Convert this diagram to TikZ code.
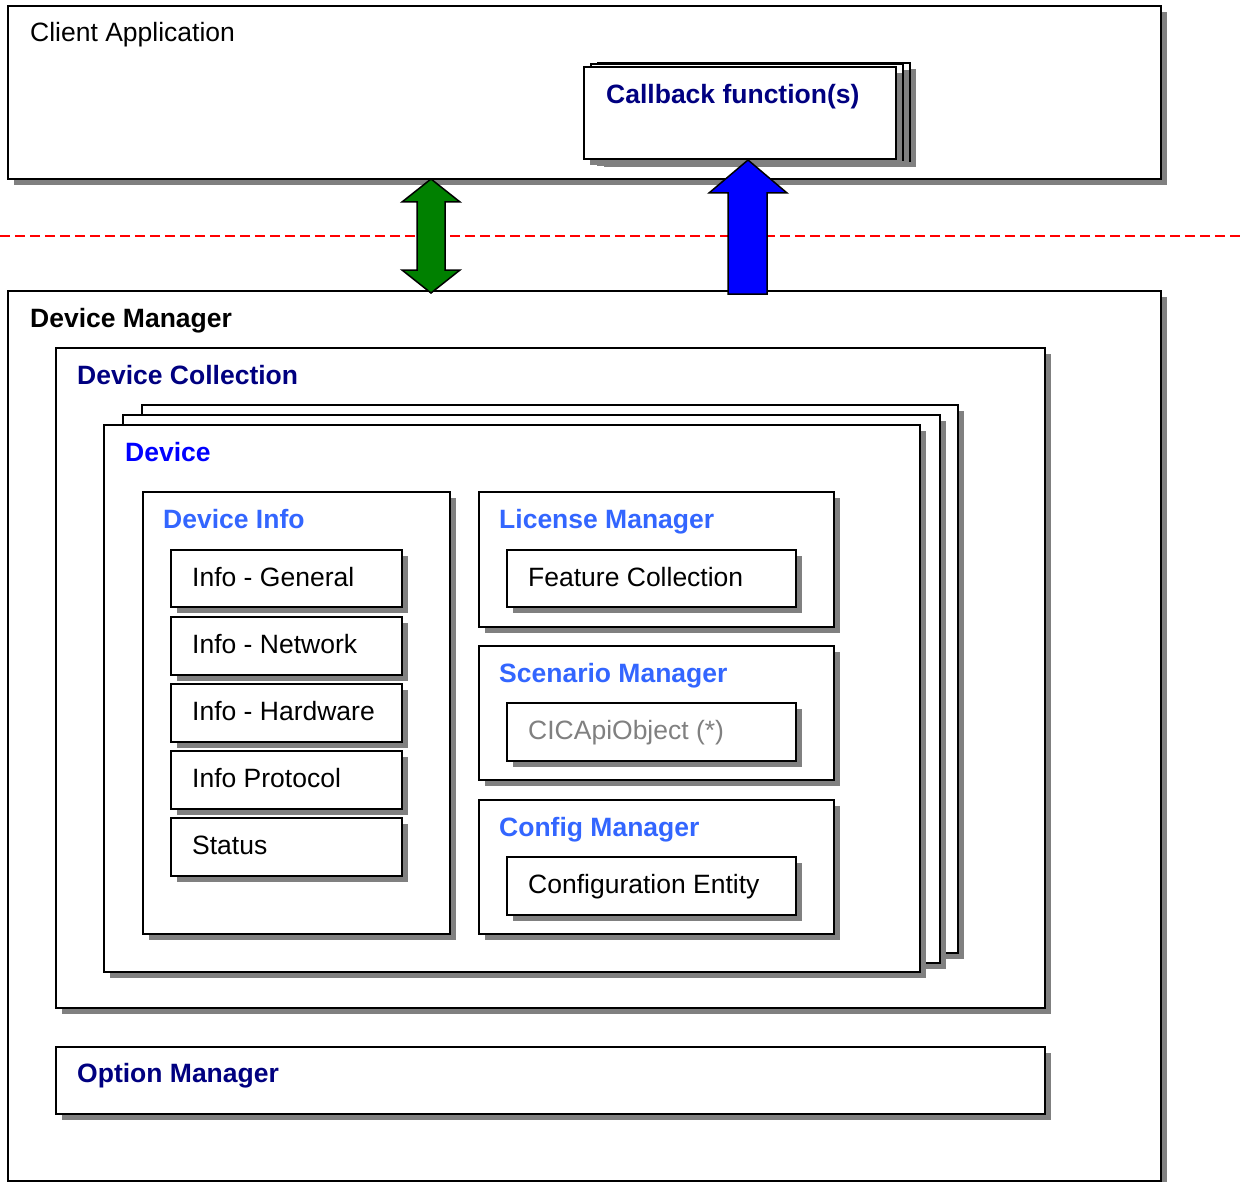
\documentclass[tikz,border=0pt]{standalone}
\usepackage{fontspec}
\setmainfont{Liberation Sans}
\usetikzlibrary{fit,shadows}
\definecolor{navy}{RGB}{0,0,128}
\definecolor{brblue}{RGB}{0,0,255}
\definecolor{ltblue}{RGB}{51,102,255}
\definecolor{shgray}{RGB}{128,128,128}
\definecolor{txgray}{RGB}{128,128,128}
\definecolor{grn}{RGB}{0,128,0}
\tikzset{
  bx/.style={draw=black, line width=2pt, fill=white, inner sep=0pt,
    drop shadow={shadow xshift=6pt, shadow yshift=-6pt, fill=shgray, opacity=1}},
  lbl/.style={anchor=base west, inner sep=0pt, font=\fontsize{26.5}{30}\selectfont},
  blbl/.style={lbl, font=\fontsize{26.5}{30}\selectfont\bfseries},
}
\begin{document}
\begin{tikzpicture}[x=1pt,y=-1pt]
\useasboundingbox (0,0) rectangle (1241,1182);
% Client application
\node[bx, fit={(8,6) (1161,179)}] (client) {};
\node[lbl] (clientt) at (30,41.5) {Client Application};
% callback stack
\node[bx, fit={(598,63) (910,161)}] (cb3) {};
\node[bx, fit={(591,64) (903,160)}] (cb2) {};
\node[bx, fit={(584,67) (896,159)}] (cb1) {};
\node[blbl, text=navy] (cbt) at (606,103.5) {Callback function(s)};
% dashed line
\coordinate (dl) at (0,236);
\coordinate (dr) at (1241,236);
\draw[red, line width=2pt, dash pattern=on 10pt off 5pt] (dl) -- (dr);
% Device manager
\node[bx, fit={(8,291) (1161,1181)}] (dm) {};
\node[blbl] (dmt) at (30,327.5) {Device Manager};
% Device collection
\node[bx, fit={(56,348) (1045,1008)}] (dc) {};
\node[blbl, text=navy] (dct) at (77,384.5) {Device Collection};
% Device stack
\node[bx, fit={(142,405) (958,953)}] (dev3) {};
\node[bx, fit={(123,415) (940,963)}] (dev2) {};
\node[bx, fit={(104,425) (920,972)}] (dev1) {};
\node[blbl, text=brblue] (devt) at (125,461.5) {Device};
% Device info
\node[bx, fit={(143,492) (450,934)}] (di) {};
\node[blbl, text=ltblue] (dit) at (163,528.5) {Device Info};
\node[bx, fit={(171,550) (402,607)}] (ig) {};
\node[lbl] at (192,586.5) {Info - General};
\node[bx, fit={(171,617) (402,675)}] (inw) {};
\node[lbl] at (192,653.5) {Info - Network};
\node[bx, fit={(171,684) (402,742)}] (ih) {};
\node[lbl] at (192,720.5) {Info - Hardware};
\node[bx, fit={(171,751) (402,809)}] (ip) {};
\node[lbl] at (192,787.5) {Info Protocol};
\node[bx, fit={(171,818) (402,876)}] (st) {};
\node[lbl] at (192,854.5) {Status};
% License manager
\node[bx, fit={(479,492) (834,627)}] (lm) {};
\node[blbl, text=ltblue] (lmt) at (499,528.5) {License Manager};
\node[bx, fit={(507,550) (796,607)}] (fc) {};
\node[lbl] at (528,586.5) {Feature Collection};
% Scenario manager
\node[bx, fit={(479,646) (834,780)}] (sm) {};
\node[blbl, text=ltblue] (smt) at (499,682.5) {Scenario Manager};
\node[bx, fit={(507,703) (796,761)}] (cic) {};
\node[lbl, text=txgray] at (528,739.5) {CICApiObject (*)};
% Config manager
\node[bx, fit={(479,800) (834,934)}] (cm) {};
\node[blbl, text=ltblue] (cmt) at (499,836.5) {Config Manager};
\node[bx, fit={(507,857) (796,915)}] (ce) {};
\node[lbl] at (528,893.5) {Configuration Entity};
% Option manager
\node[bx, fit={(56,1047) (1045,1114)}] (om) {};
\node[blbl, text=navy] (omt) at (77,1082.5) {Option Manager};
% green double arrow
\draw[line width=1.5pt, fill=grn, line join=miter]
  (431,179) -- (460,202) -- (445,202) -- (445,270) -- (460,270) -- (431,293)
  -- (402,270) -- (417,270) -- (417,202) -- (402,202) -- cycle;
% blue up arrow
\draw[line width=1.5pt, fill=brblue, line join=miter]
  (748,160) -- (787,193) -- (767,193) -- (767,294) -- (728,294) -- (728,193)
  -- (709,193) -- cycle;
\end{tikzpicture}
\end{document}
